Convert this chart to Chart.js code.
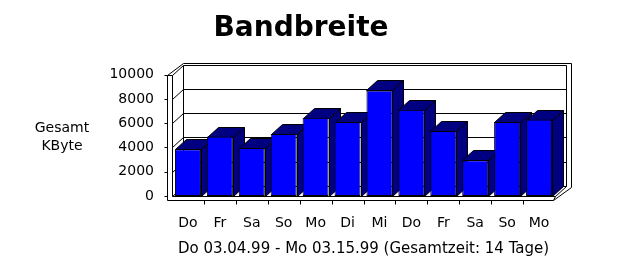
<!DOCTYPE html>
<html>
<head>
<meta charset="utf-8">
<script src="https://cdn.jsdelivr.net/npm/chart.js@4"></script>
<style>
  html, body { margin: 0; padding: 0; background: #fff; }
  #wrap { width: 639px; height: 265px; }
</style>
</head>
<body>
<div id="wrap"><canvas id="chart" width="639" height="265"></canvas></div>
<script>
const days = ["Do", "Fr", "Sa", "So", "Mo", "Di", "Mi", "Do", "Fr", "Sa", "So", "Mo"];
const kbyte = [3850, 4900, 3950, 5100, 6450, 6100, 8700, 7100, 5350, 2950, 6100, 6300];
const yTicks = [0, 2000, 4000, 6000, 8000, 10000];
const yTitle = ["Gesamt", "KByte"];
const xTitle = "Do 03.04.99 - Mo 03.15.99 (Gesamtzeit: 14 Tage)";

// Tiefe der 3D-Darstellung
const DX = 11, DY = -10;

function line(ctx, x1, y1, x2, y2) {
    ctx.beginPath();
    ctx.moveTo(Math.round(x1) + 0.5, Math.round(y1) + 0.5);
    ctx.lineTo(Math.round(x2) + 0.5, Math.round(y2) + 0.5);
    ctx.stroke();
}

function poly(ctx, pts, fill) {
    ctx.beginPath();
    pts.forEach((p, i) => {
        const x = Math.round(p[0]) + 0.5, y = Math.round(p[1]) + 0.5;
        if (i === 0) ctx.moveTo(x, y); else ctx.lineTo(x, y);
    });
    ctx.closePath();
    ctx.fillStyle = fill;
    ctx.fill();
    ctx.stroke();
}

const box3d = {
    id: "box3d",
    beforeDatasetsDraw(chart) {
        const ctx = chart.ctx;
        const { left: L, right: R, top: T, bottom: B } = chart.chartArea;
        const y = chart.scales.y, x = chart.scales.x;
        ctx.save();
        ctx.strokeStyle = "#000";
        ctx.lineWidth = 1;

        // linke Wand
        line(ctx, L - 5, T, L - 5, B + 4);
        line(ctx, L, T, L, B);
        line(ctx, L - 5, T, L, T);
        line(ctx, L - 5, T, L + DX, T + DY - 2);

        // Rückwand
        line(ctx, L + DX, T + DY - 2, R + DX + 5, T + DY - 2);
        line(ctx, L + DX, T + DY, L + DX, B + DY);
        line(ctx, R + DX, T + DY, R + DX, B + DY);
        line(ctx, R + DX + 5, T + DY - 2, R + DX + 5, B + DY + 1);

        // Gitterlinien und Striche an der Achse
        yTicks.forEach(v => {
            const py = y.getPixelForValue(v);
            line(ctx, L, py, L + DX, py + DY);
            line(ctx, L + DX, py + DY, R + DX, py + DY);
            line(ctx, L - 8, py, L - 5, py);
        });

        // Boden
        line(ctx, L, B, R, B);
        line(ctx, L - 5, B + 4, R - 2, B + 4);
        line(ctx, R, B, R + DX, B + DY);
        line(ctx, R - 2, B + 4, R + DX + 5, B + DY + 1);
        line(ctx, R - 2, B + 4, R, B);

        const slot = (R - L) / days.length;
        for (let i = 1; i < days.length; i++) {
            const px = x.getPixelForValue(i) - slot / 2;
            line(ctx, px, B + 4, px, B + 8);
        }

        // Seiten und Deckflächen der Säulen
        chart.getDatasetMeta(0).data.forEach(bar => {
            const l = bar.x - bar.width / 2, r = bar.x + bar.width / 2;
            poly(ctx, [[r, bar.y], [r + DX, bar.y + DY], [r + DX, bar.base + DY], [r, bar.base]], "#000080");
            poly(ctx, [[l, bar.y], [l + DX, bar.y + DY], [r + DX, bar.y + DY], [r, bar.y]], "#000080");
        });
        ctx.restore();
    },
    afterDraw(chart) {
        const ctx = chart.ctx;
        ctx.save();
        ctx.fillStyle = "#000";
        ctx.font = "14px 'DejaVu Sans'";
        ctx.textAlign = "center";
        ctx.textBaseline = "alphabetic";
        ctx.fillText(yTitle[0], 62, 132);
        ctx.fillText(yTitle[1], 62, 150);
        ctx.restore();
    }
};

new Chart(document.getElementById("chart"), {
    type: "bar",
    data: {
        labels: days,
        datasets: [{
            data: kbyte,
            backgroundColor: "#0000ff",
            borderColor: "#000",
            borderWidth: 1,
            borderSkipped: false,
            barPercentage: 0.815,
            categoryPercentage: 1.0
        }]
    },
    options: {
        responsive: false,
        animation: false,
        layout: { padding: { left: 47, right: 84, top: 0, bottom: 0 } },
        plugins: {
            legend: { display: false },
            tooltip: { enabled: false },
            title: {
                display: true,
                text: "Bandbreite",
                color: "#000",
                font: { family: "'DejaVu Sans'", size: 28, weight: "bold" },
                padding: { top: 12, bottom: 29 }
            }
        },
        scales: {
            x: {
                grid: { display: false, drawTicks: false },
                border: { display: false },
                ticks: { color: "#000", padding: 19, font: { family: "'DejaVu Sans'", size: 14 } },
                title: {
                    display: true,
                    text: xTitle,
                    color: "#000",
                    font: { family: "'DejaVu Sans'", size: 15 },
                    padding: { top: 0, bottom: 7 }
                },
                afterFit(scale) { scale.height = 69; }
            },
            y: {
                min: 0,
                max: 10000,
                grid: { display: false, drawTicks: false },
                border: { display: false },
                ticks: {
                    stepSize: 2000,
                    color: "#000",
                    padding: 18,
                    font: { family: "'DejaVu Sans'", size: 14 },
                    callback: v => String(v)
                },
                afterFit(scale) { scale.width = 125; }
            }
        }
    },
    plugins: [box3d]
});
</script>
</body>
</html>
